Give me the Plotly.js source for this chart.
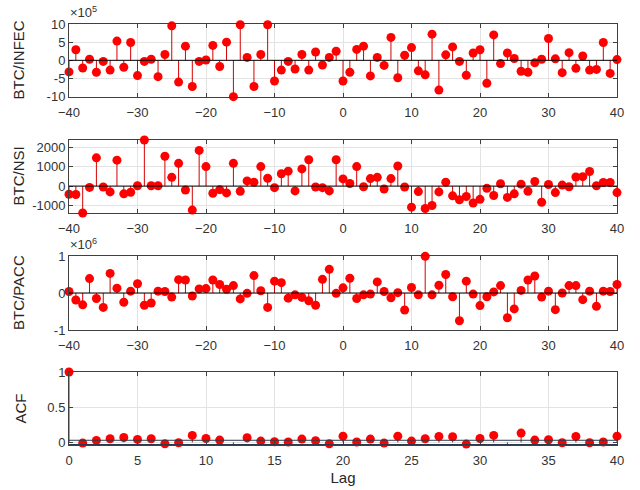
<!DOCTYPE html>
<html>
<head>
<meta charset="utf-8">
<script src="https://cdn.plot.ly/plotly-3.0.1.min.js"></script>
<style>html,body{margin:0;padding:0;background:#fff}#chart{width:640px;height:490px}</style>
</head>
<body>
<div id="chart"></div>
<script>
// Lags
const lagsCross = []; for (let k = -40; k <= 40; k++) lagsCross.push(k);
const lagsAcf = []; for (let k = 0; k <= 40; k++) lagsAcf.push(k);

// Panel titles
const panelTitles = ['BTC/INFEC', 'BTC/NSI', 'BTC/PACC', 'ACF'];

// BTC/INFEC cross-correlation (x 10^5), lags -40..40
const btcInfec = [
  -3.2, 2.9, -2.1, 0.3, -3.3, -0.3, -2.7, 5.3, -1.9, 4.9,
  -4.2, -0.3, 0.3, -4.5, 1.6, 9.5, -6.0, 3.9, -7.2, -0.3,
  0.1, 4.1, -1.7, 5.0, -10.0, 9.8, 0.8, -7.2, 1.6, 9.8,
  -5.7, -2.7, -0.3, -2.4, 1.6, -2.7, 2.3, -1.3, 0.8, 2.5,
  -5.7,
  -3.3, 3.0, 3.9, -4.3, 0.8, -1.4, 6.3, -4.8, 1.4, 3.5,
  -2.9, -4.0, 7.2, -8.2, 1.5, 3.7, -0.3, -4.1, 2.0, 2.9,
  -6.3, 7.0, -0.9, 2.0, 0.5, -3.0, -3.3, -0.7, 0.3, 6.0,
  0.4, -3.4, 2.1, -2.2, 1.2, -2.7, -2.5, 4.9, -3.6, 0.2
];

// BTC/NSI cross-correlation, lags -40..40
const btcNsi = [
  -417, -433, -1383, -67, 1450, -50, -300, 1333, -400, -317,
  17, 2367, 17, 17, 1533, 450, 1167, -200, -1233, 1833,
  1000, -367, -183, -350, 1167, -267, 267, 200, 1000, 400,
  -83, 633, 767, -250, 883, 1350, -50, -83, -250, 1350,
  367,
  133, 1000, -33, 383, 450, -150, 383, 1033, -50, -1083,
  -283, -1150, -1000, -300, 200, -500, -700, -533, -867, -683,
  -117, -483, 117, -583, -400, 100, -267, 233, -833, 83,
  -333, 50, -33, 467, 483, 750, 17, 183, 183, -333
];

// BTC/PACC cross-correlation (x 10^6), lags -40..40
const btcPacc = [
  0.04, -0.19, -0.32, 0.39, -0.15, -0.39, 0.53, 0.13, -0.25, 0.05,
  0.25, -0.33, -0.27, 0.05, 0.04, -0.11, 0.36, 0.35, -0.08, 0.11,
  0.12, 0.35, 0.23, 0.10, 0.20, -0.16, -0.01, 0.47, 0.06, -0.39,
  0.32, 0.28, -0.14, -0.05, -0.12, -0.21, -0.33, 0.37, 0.64, -0.01,
  0.14,
  0.40, -0.15, -0.05, -0.03, 0.30, 0.04, -0.13, 0.01, -0.46, 0.15,
  -0.05, 0.99, -0.05, 0.21, 0.50, -0.10, -0.75, 0.32, -0.03, -0.34,
  -0.10, 0.03, 0.20, -0.67, -0.43, 0.07, 0.35, 0.46, -0.11, 0.05,
  -0.45, 0.00, 0.20, 0.20, -0.18, 0.05, -0.36, 0.05, 0.04, 0.23
];

// ACF, lags 0..40
const acf = [
  1.0, -0.010, 0.028, 0.052, 0.070, 0.042, 0.052, -0.019, -0.005, 0.099,
  0.056, 0.033, -0.038, 0.066, 0.019, 0.009, 0.005, 0.047, 0.023, -0.019,
  0.089, 0.005, 0.047, -0.010, 0.089, 0.019, 0.052, 0.085, 0.080, -0.024,
  0.056, 0.099, -0.042, 0.132, 0.033, 0.038, -0.005, 0.085, -0.005, 0.005,
  0.089
];
const acfBound = 0.03;

const RED = '#ff0000';
const STEM = '#d40000';
const FONT = 'Liberation Sans, Arial, sans-serif';

function stemTraces(x, y, ax) {
  const sx = [], sy = [];
  for (let i = 0; i < x.length; i++) { sx.push(x[i], x[i], null); sy.push(0, y[i], null); }
  return [
    {x: sx, y: sy, mode: 'lines', type: 'scatter', line: {color: STEM, width: 1},
     xaxis: 'x' + ax, yaxis: 'y' + ax, hoverinfo: 'skip', showlegend: false, cliponaxis: false},
    {x: x, y: y, mode: 'markers', type: 'scatter', marker: {color: RED, size: 9},
     xaxis: 'x' + ax, yaxis: 'y' + ax, showlegend: false, cliponaxis: false}
  ];
}

const data = [].concat(
  stemTraces(lagsCross, btcInfec, ''),
  stemTraces(lagsCross, btcNsi, '2'),
  stemTraces(lagsCross, btcPacc, '3'),
  stemTraces(lagsAcf, acf, '4')
);

const xdom = [69/640, 617/640];
function yd(top, bot) { return [1 - bot/490, 1 - top/490]; }

const axBase = {
  showline: true, linecolor: '#404040', linewidth: 1, mirror: 'ticks',
  ticks: 'inside', ticklen: 4, tickcolor: '#404040',
  showgrid: true, gridcolor: '#e3e3e3', zeroline: false,
  tickfont: {family: FONT, size: 13, color: '#333'}
};
function xax(anchor, range, dtick) {
  return Object.assign({}, axBase, {domain: xdom, anchor: anchor, range: range, dtick: dtick, tick0: 0, ticklabelstandoff: 3});
}
function yax(anchor, dom, range, tickvals, ticktext) {
  return Object.assign({}, axBase, {domain: dom, anchor: anchor, range: range, tickvals: tickvals, ticktext: ticktext});
}

const panels = [[24, 97], [140, 213], [256, 330], [372, 445]];
const titleX = [18, 18, 18, 20];

const annotations = [
  {xref: 'paper', yref: 'paper', x: 68/640, y: 1 - 22/490, xanchor: 'left', yanchor: 'bottom', showarrow: false,
   text: '\u00d710<sup>5</sup>', font: {family: FONT, size: 13, color: '#333'}},
  {xref: 'paper', yref: 'paper', x: 68/640, y: 1 - 254/490, xanchor: 'left', yanchor: 'bottom', showarrow: false,
   text: '\u00d710<sup>6</sup>', font: {family: FONT, size: 13, color: '#333'}}
];
panelTitles.forEach((t, i) => {
  annotations.push({xref: 'paper', yref: 'paper', x: titleX[i]/640, y: 1 - (panels[i][0] + panels[i][1]) / 2 / 490,
    xanchor: 'center', yanchor: 'middle', textangle: -90, showarrow: false, text: t,
    font: {family: FONT, size: 15, color: '#262626'}});
});

const layout = {
  width: 640, height: 490,
  margin: {l: 0, r: 0, t: 0, b: 0},
  paper_bgcolor: '#fff', plot_bgcolor: '#fff',
  showlegend: false,
  xaxis: xax('y', [-40, 40], 10),
  yaxis: yax('x', yd(24, 97), [-10.1, 10], [-10, -5, 0, 5, 10], ['-10', '-5', '0', '5', '10']),
  xaxis2: xax('y2', [-40, 40], 10),
  yaxis2: yax('x2', yd(140, 213), [-1383, 2367], [-1000, 0, 1000, 2000], ['-1000', '0', '1000', '2000']),
  xaxis3: xax('y3', [-40, 40], 10),
  yaxis3: yax('x3', yd(256, 330), [-1, 1], [-1, 0, 1], ['-1', '0', '1']),
  xaxis4: Object.assign(xax('y4', [0, 40], 5), {title: {text: 'Lag', font: {family: FONT, size: 15, color: '#262626'}, standoff: 5}}),
  yaxis4: yax('x4', yd(372, 445), [-0.037, 1], [0, 0.5, 1], ['0', '0.5', '1']),
  shapes: [
    {type: 'line', xref: 'x domain', yref: 'y', x0: 0, x1: 1, y0: 0, y1: 0, line: {color: '#000', width: 1}},
    {type: 'line', xref: 'x2 domain', yref: 'y2', x0: 0, x1: 1, y0: 0, y1: 0, line: {color: '#000', width: 1}},
    {type: 'line', xref: 'x3 domain', yref: 'y3', x0: 0, x1: 1, y0: 0, y1: 0, line: {color: '#000', width: 1}},
    {type: 'line', xref: 'x4 domain', yref: 'y4', x0: 0, x1: 1, y0: acfBound, y1: acfBound, line: {color: '#2b3a4a', width: 1}},
    {type: 'line', xref: 'x4 domain', yref: 'y4', x0: 0, x1: 1, y0: -acfBound, y1: -acfBound, line: {color: '#2b3a4a', width: 1}}
  ],
  annotations: annotations
};

Plotly.newPlot('chart', data, layout, {displayModeBar: false, staticPlot: true});
</script>
</body>
</html>
